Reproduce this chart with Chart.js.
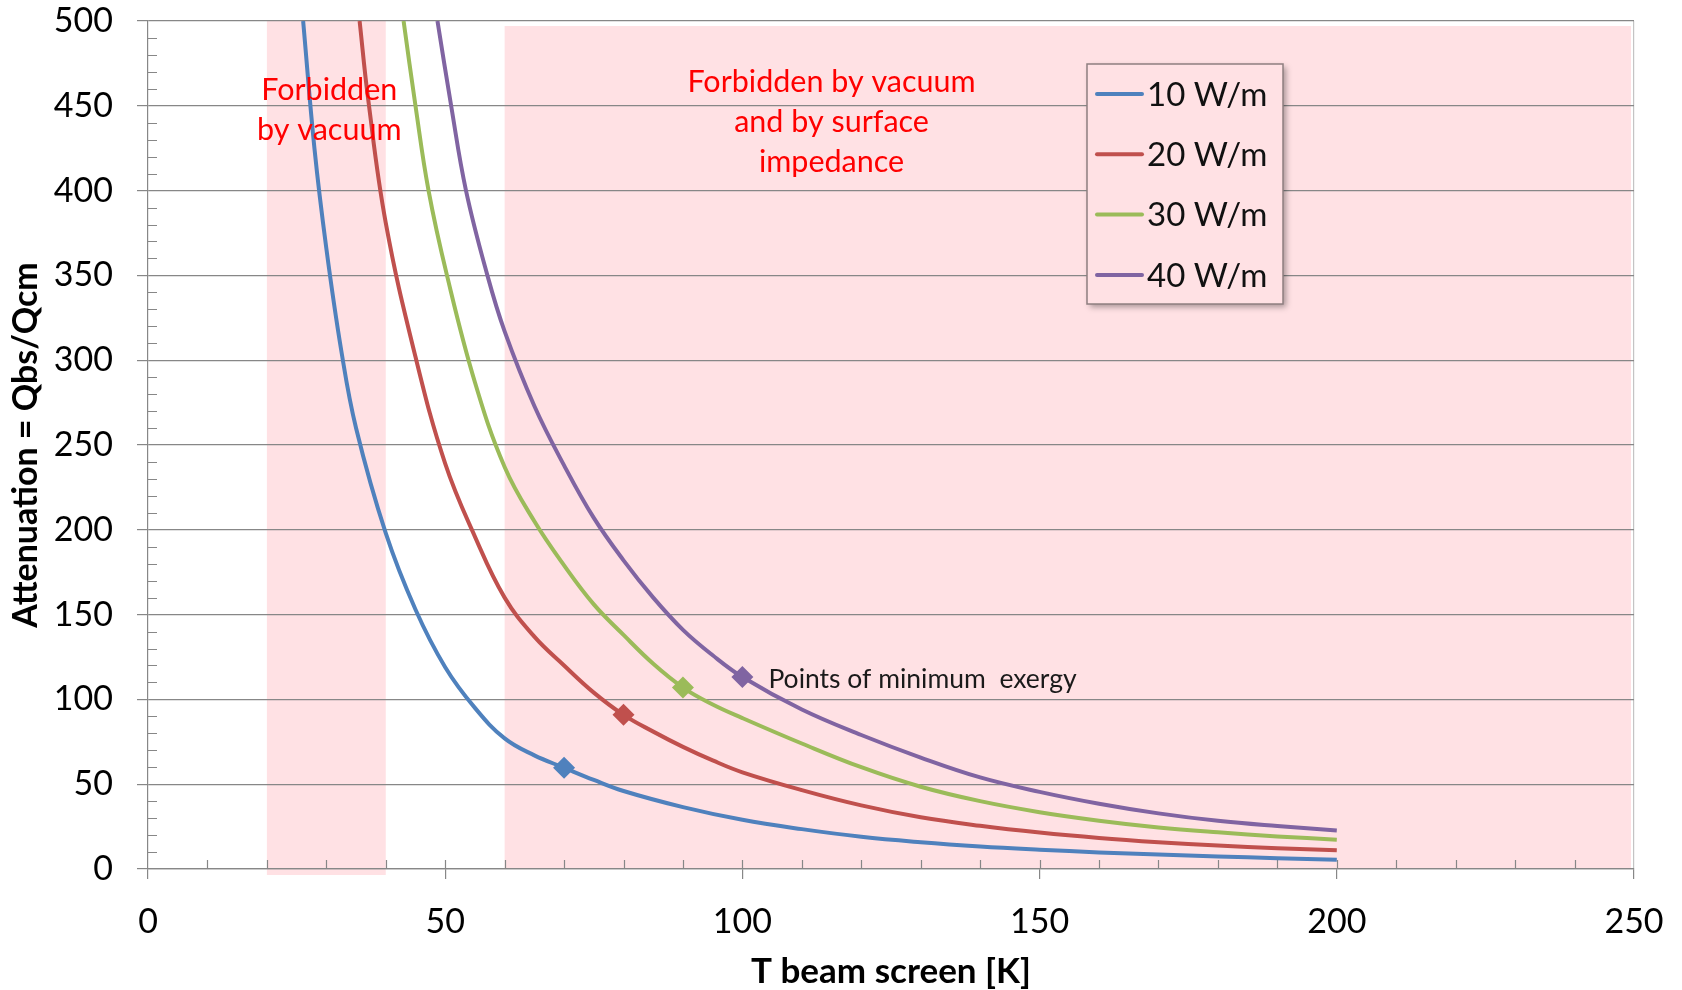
<!DOCTYPE html>
<html>
<head>
<meta charset="utf-8">
<title>Attenuation vs beam screen temperature</title>
<script src="https://cdn.jsdelivr.net/npm/chart.js@4.4.1/dist/chart.umd.min.js"></script>
<style>
    html, body { margin: 0; padding: 0; background: #ffffff; }
    #wrap { position: relative; width: 1682px; height: 990px; }
</style>
</head>
<body>
<div id="wrap"><canvas id="attenChart"></canvas></div>
<script>
// ---------------------------------------------------------------
// Data: T beam screen [K] vs attenuation Qbs/Qcm, one curve per heat load
// ---------------------------------------------------------------
const temps10 = [26.1, 28, 30, 32.5, 35, 40, 45, 50, 55, 60, 65, 70, 75, 80, 90, 100, 110, 120, 130, 140, 150, 160, 170, 180, 190, 200];
const atten10 = [500, 425, 366, 306, 260, 198, 153, 119, 95, 77, 67, 59.7, 52.5, 46, 36.5, 29, 23.5, 19, 15.8, 13.3, 11.4, 9.8, 8.5, 7.4, 6.4, 5.5];

const temps20 = [35.6, 37, 40, 45, 50, 55, 60, 65, 70, 75, 80, 85, 90, 95, 100, 110, 120, 130, 140, 150, 160, 170, 180, 190, 200];
const atten20 = [500, 455, 381, 302, 239, 196, 160, 137, 120, 104, 90.9, 81, 72, 64, 57, 46.5, 37.5, 30.5, 25.5, 21.5, 18.3, 15.8, 13.8, 12.3, 11];

const temps30 = [43, 45, 47.2, 50.3, 55, 60, 65, 70, 75, 80, 85, 90, 95, 100, 110, 120, 130, 140, 150, 160, 170, 180, 190, 200];
const atten30 = [500, 450, 400, 350, 287, 237, 205, 179, 156, 138, 121, 107, 97, 89, 74, 60, 48.5, 40, 33.5, 28.5, 24.5, 21.6, 19.2, 17.3];

const temps40 = [48.7, 51, 53.5, 57.1, 60, 65, 70, 75, 80, 85, 90, 95, 100, 110, 120, 130, 140, 150, 160, 170, 180, 190, 200];
const atten40 = [500, 450, 400, 350, 317, 273, 238, 207, 182, 160, 141, 126, 113.2, 94, 79, 65.7, 54, 45.5, 38.5, 32.8, 28.4, 25.3, 22.7];

const seriesLabels = ['10 W/m', '20 W/m', '30 W/m', '40 W/m'];
// temperature of the minimum-exergy point on each curve
const exergyTemps = [70, 80, 90, 100];
// forbidden temperature ranges [K]
const forbiddenBands = [[20, 40], [60, 250]];
const bandNotes = [
    ['Forbidden', 'by vacuum'],
    ['Forbidden by vacuum', 'and by surface', 'impedance']
];
const exergyNote = 'Points of minimum  exergy';

const xMin = 0, xMax = 250, xStep = 50;
const yMin = 0, yMax = 500, yStep = 50;

// ---------------------------------------------------------------
// Styles
// ---------------------------------------------------------------
const seriesColors = ['#4F81BD', '#C0504D', '#9BBB59', '#8064A2'];
const bandColor = '#FFE1E4';
const gridColor = '#878787';
const FONT = "Lato, 'Open Sans', sans-serif";

const toPoints = (xs, ys) => xs.map((t, i) => ({ x: t, y: ys[i] }));
const allSeries = [
    toPoints(temps10, atten10),
    toPoints(temps20, atten20),
    toPoints(temps30, atten30),
    toPoints(temps40, atten40)
];

// shaded forbidden zones, drawn under the grid
const bandPlugin = {
    id: 'forbiddenBands',
    beforeDraw(chart) {
        const { ctx, chartArea, scales: { x } } = chart;
        ctx.save();
        ctx.fillStyle = bandColor;
        forbiddenBands.forEach(([t0, t1], i) => {
            const x0 = x.getPixelForValue(t0);
            const x1 = x.getPixelForValue(t1);
            if (i === 0) {
                ctx.fillRect(x0, chartArea.top, x1 - x0, chartArea.bottom - chartArea.top + 6);
            } else {
                ctx.fillRect(x0, chartArea.top + 5, x1 - x0 - 3, chartArea.bottom - chartArea.top - 5);
            }
        });
        ctx.restore();
    }
};

// minor ticks every 10 units, pointing into the plot
const minorTickPlugin = {
    id: 'minorTicks',
    beforeDatasetsDraw(chart) {
        const { ctx, chartArea, scales: { x, y } } = chart;
        ctx.save();
        ctx.strokeStyle = gridColor;
        ctx.lineWidth = 1.2;
        ctx.beginPath();
        for (let v = yMin + 10; v < yMax; v += 10) {
            if (v % yStep === 0) continue;
            const py = Math.round(y.getPixelForValue(v)) + 0.5;
            ctx.moveTo(chartArea.left, py);
            ctx.lineTo(chartArea.left + 9, py);
        }
        for (let v = xMin + 10; v < xMax; v += 10) {
            const px = Math.round(x.getPixelForValue(v)) + 0.5;
            ctx.moveTo(px, chartArea.bottom);
            ctx.lineTo(px, chartArea.bottom - 9);
        }
        ctx.stroke();
        ctx.restore();
    }
};

// red notes in the forbidden zones + label next to the exergy markers
const notesPlugin = {
    id: 'notes',
    afterDatasetsDraw(chart) {
        const { ctx, scales: { x, y } } = chart;
        ctx.save();
        ctx.fillStyle = '#FF0000';
        ctx.textAlign = 'center';
        ctx.textBaseline = 'middle';
        ctx.font = `30.5px ${FONT}`;

        const cx1 = x.getPixelForValue(30.5);
        bandNotes[0].forEach((line, i) => {
            ctx.fillText(line, cx1, y.getPixelForValue(459) + i * 40);
        });
        const cx2 = x.getPixelForValue(115);
        bandNotes[1].forEach((line, i) => {
            ctx.fillText(line, cx2, y.getPixelForValue(464) + i * 40);
        });

        // label sits just right of the 40 W/m marker
        const meta = chart.getDatasetMeta(3);
        const idx = allSeries[3].findIndex(p => p.x === exergyTemps[3]);
        const pt = meta.data[idx];
        ctx.fillStyle = '#1a1a1a';
        ctx.textAlign = 'left';
        ctx.font = `26.5px ${FONT}`;
        ctx.fillText(exergyNote, pt.x + 26, pt.y + 2);
        ctx.restore();
    }
};

// boxed legend with drop shadow, inside the plot
const legendBoxPlugin = {
    id: 'legendBox',
    afterDraw(chart) {
        const { ctx } = chart;
        const bx = 1087, by = 64, bw = 196, bh = 240;
        ctx.save();
        ctx.shadowColor = 'rgba(0, 0, 0, 0.35)';
        ctx.shadowBlur = 6;
        ctx.shadowOffsetX = 3;
        ctx.shadowOffsetY = 3;
        ctx.fillStyle = bandColor;
        ctx.fillRect(bx, by, bw, bh);
        ctx.shadowColor = 'transparent';
        ctx.strokeStyle = '#8f7f80';
        ctx.lineWidth = 1.5;
        ctx.strokeRect(bx, by, bw, bh);

        chart.data.datasets.forEach((ds, i) => {
            const ly = by + 30 + i * 60.3;
            ctx.strokeStyle = ds.borderColor;
            ctx.lineWidth = 4;
            ctx.lineCap = 'round';
            ctx.beginPath();
            ctx.moveTo(bx + 10, ly);
            ctx.lineTo(bx + 55, ly);
            ctx.stroke();
            ctx.fillStyle = '#111111';
            ctx.font = `33px ${FONT}`;
            ctx.textAlign = 'left';
            ctx.textBaseline = 'middle';
            ctx.fillText(ds.label, bx + 60, ly + 1);
        });
        ctx.restore();
    }
};

const ctx = document.getElementById('attenChart').getContext('2d');

new Chart(ctx, {
    type: 'line',
    data: {
        datasets: allSeries.map((pts, i) => ({
            label: seriesLabels[i],
            data: pts,
            borderColor: seriesColors[i],
            backgroundColor: seriesColors[i],
            borderWidth: 4,
            tension: 0.4,
            fill: false,
            pointStyle: 'rectRot',
            pointRadius: c => (c.raw && c.raw.x === exergyTemps[i] ? 11 : 0),
            pointBorderWidth: 0,
            pointHoverRadius: 0
        }))
    },
    options: {
        responsive: true,
        maintainAspectRatio: false,
        animation: false,
        layout: {
            padding: { top: 21, right: 48, left: 0, bottom: 0 }
        },
        plugins: {
            legend: { display: false },
            tooltip: { enabled: false }
        },
        scales: {
            x: {
                type: 'linear',
                min: xMin,
                max: xMax,
                ticks: {
                    stepSize: xStep,
                    color: '#000',
                    padding: 23,
                    font: { family: FONT, size: 34 }
                },
                grid: {
                    // only the right edge of the plot gets a vertical line
                    color: c => (c.tick && c.tick.value === xMax ? '#c4c4c4' : 'rgba(0,0,0,0)'),
                    tickColor: gridColor,
                    tickLength: 10,
                    lineWidth: 1.2
                },
                border: { display: true, color: gridColor, width: 1.2 },
                title: {
                    display: true,
                    text: 'T beam screen [K]',
                    color: '#000',
                    font: { family: FONT, size: 35, weight: 'bold' },
                    padding: { top: 0, bottom: -3 }
                },
                afterFit(scale) {
                    scale.height = 121;
                    scale.paddingLeft = 0;
                    scale.paddingRight = 0;
                }
            },
            y: {
                type: 'linear',
                min: yMin,
                max: yMax,
                ticks: {
                    stepSize: yStep,
                    color: '#000',
                    padding: 24,
                    font: { family: FONT, size: 34 }
                },
                grid: {
                    color: gridColor,
                    tickColor: gridColor,
                    tickLength: 11,
                    lineWidth: 1.2
                },
                border: { display: true, color: gridColor, width: 1.2 },
                title: {
                    display: true,
                    text: 'Attenuation = Qbs/Qcm',
                    color: '#000',
                    font: { family: FONT, size: 34, weight: 'bold' },
                    padding: { top: 6, bottom: 0 }
                },
                afterFit(scale) {
                    scale.width = 148;
                    scale.paddingTop = 0;
                    scale.paddingBottom = 0;
                }
            }
        }
    },
    plugins: [bandPlugin, minorTickPlugin, notesPlugin, legendBoxPlugin]
});
</script>
</body>
</html>
